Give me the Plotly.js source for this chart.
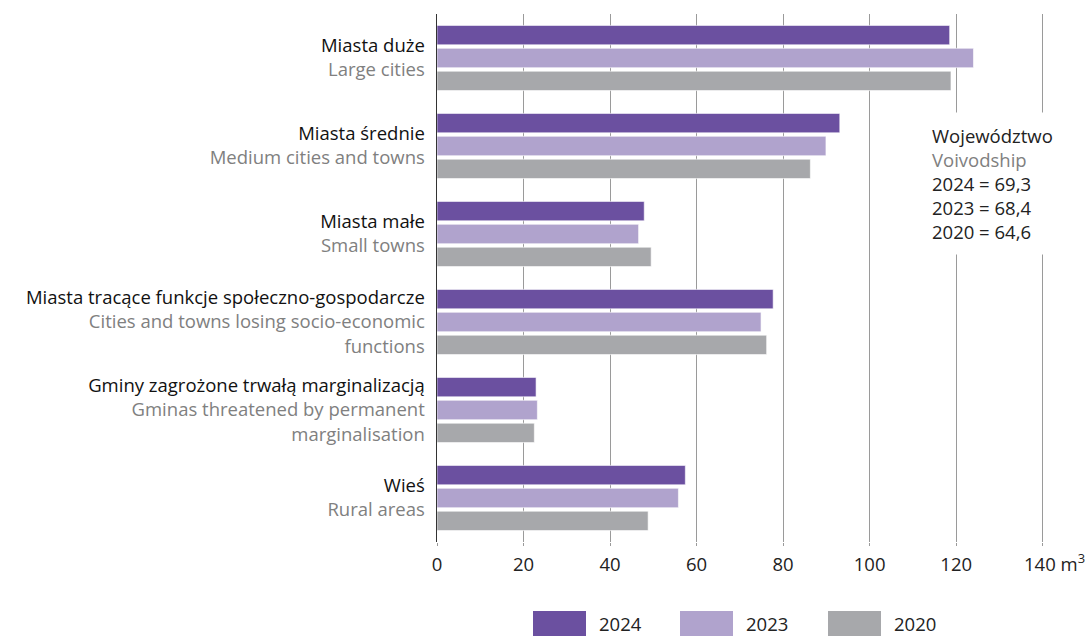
<!DOCTYPE html>
<html>
<head>
<meta charset="utf-8">
<script src="https://cdn.plot.ly/plotly-3.0.1.min.js"></script>
<style>html,body{margin:0;padding:0;background:#fff;}#chart{width:1085px;height:636px;}</style>
</head>
<body>
<div id="chart"></div>
<script>
const categoriesPL = ['Miasta duże', 'Miasta średnie', 'Miasta małe', 'Miasta tracące funkcje społeczno-gospodarcze', 'Gminy zagrożone trwałą marginalizacją', 'Wieś'];
const categoriesEN = [['Large cities'], ['Medium cities and towns'], ['Small towns'], ['Cities and towns losing socio-economic', 'functions'], ['Gminas threatened by permanent', 'marginalisation'], ['Rural areas']];
const seriesNames = ['2024', '2023', '2020'];
const values2024 = [118.5, 93.1, 47.9, 77.7, 22.9, 57.4];
const values2023 = [124.0, 89.9, 46.6, 74.9, 23.2, 55.8];
const values2020 = [118.8, 86.3, 49.5, 76.2, 22.5, 48.8];
const xTickVals = [0, 20, 40, 60, 80, 100, 120, 140];
const xTickText = ['0', '20', '40', '60', '80', '100', '120', ''];
const voivodshipPL = 'Województwo';
const voivodshipEN = 'Voivodship';
const voivodshipValues = ['2024 = 69,3', '2023 = 68,4', '2020 = 64,6'];

const colors = ['#6b50a0', '#b0a3cd', '#a7a8ab'];
const grey = '#808080';
const FONT = 'Open Sans, sans-serif';
const FS = 18.5;

const tickText = categoriesPL.map((pl, i) =>
  pl + '<br>' + categoriesEN[i].map(l => '<span style="color:' + grey + '">' + l + '</span>').join('<br>'));

const allValues = [values2024, values2023, values2020];
const traces = allValues.map((vals, i) => ({
  type: 'bar', orientation: 'h', name: seriesNames[i],
  x: vals, y: categoriesPL,
  marker: {color: colors[i], line: {color: 'rgba(255,255,255,0.6)', width: 1}},
  hoverinfo: 'x+name'
}));

const XMAX = 140.3;
const L = 437, R = Math.round(437 + XMAX * 606 / 140), T = 14, B = 542;
const W = R - L, H = B - T;
const px = x => (x - L) / W;
const py = y => (B - y) / H;

const shapes = [];
const annotations = [];
const legendX = [533, 680, 828];
seriesNames.forEach((n, i) => {
  shapes.push({type: 'rect', xref: 'paper', yref: 'paper', x0: px(legendX[i]), x1: px(legendX[i] + 53), y0: py(636), y1: py(611), fillcolor: colors[i], line: {width: 0}});
  annotations.push({xref: 'paper', yref: 'paper', x: px(legendX[i] + 64), y: py(623), xanchor: 'left', yanchor: 'middle', text: n, showarrow: false, font: {family: FONT, size: FS, color: '#222'}});
});

annotations.push({xref: 'x', yref: 'paper', x: 140, y: 0, xanchor: 'left', yanchor: 'middle', xshift: -21, yshift: -20,
  text: '140 m<sup>3</sup>', showarrow: false, font: {family: FONT, size: FS, color: '#222'}});

annotations.push({xref: 'paper', yref: 'paper', x: px(921), y: py(112), xanchor: 'left', yanchor: 'top',
  align: 'left', bgcolor: '#ffffff', borderpad: 10, showarrow: false,
  text: voivodshipPL + '<br><span style="color:' + grey + '">' + voivodshipEN + '</span><br>' + voivodshipValues.join('<br>'),
  font: {family: FONT, size: FS, color: '#222'}});

const layout = {
  width: 1085, height: 636,
  margin: {l: L, r: 1085 - R, t: T, b: 636 - B, pad: 0},
  paper_bgcolor: '#fff', plot_bgcolor: '#fff',
  barmode: 'group', bargap: 0.22, bargroupgap: 0.15,
  showlegend: false,
  font: {family: FONT, size: FS, color: '#222'},
  xaxis: {range: [0, XMAX], tickvals: xTickVals, ticktext: xTickText, showgrid: true, gridcolor: '#9a9a9a', gridwidth: 1,
    zeroline: false, showline: false, ticks: 'outside', ticklen: 3, tickcolor: '#9a9a9a', ticklabelstandoff: 3,
    tickfont: {family: FONT, size: FS, color: '#222'}, fixedrange: true},
  yaxis: {type: 'category', autorange: 'reversed', tickvals: categoriesPL, ticktext: tickText, showgrid: false,
    showline: true, linecolor: '#333', linewidth: 1.5, ticks: '', ticklabelstandoff: 7,
    tickfont: {family: FONT, size: FS, color: '#111'}, fixedrange: true},
  shapes: shapes, annotations: annotations
};

Plotly.newPlot('chart', traces, layout, {displayModeBar: false, staticPlot: true});
</script>
</body>
</html>
